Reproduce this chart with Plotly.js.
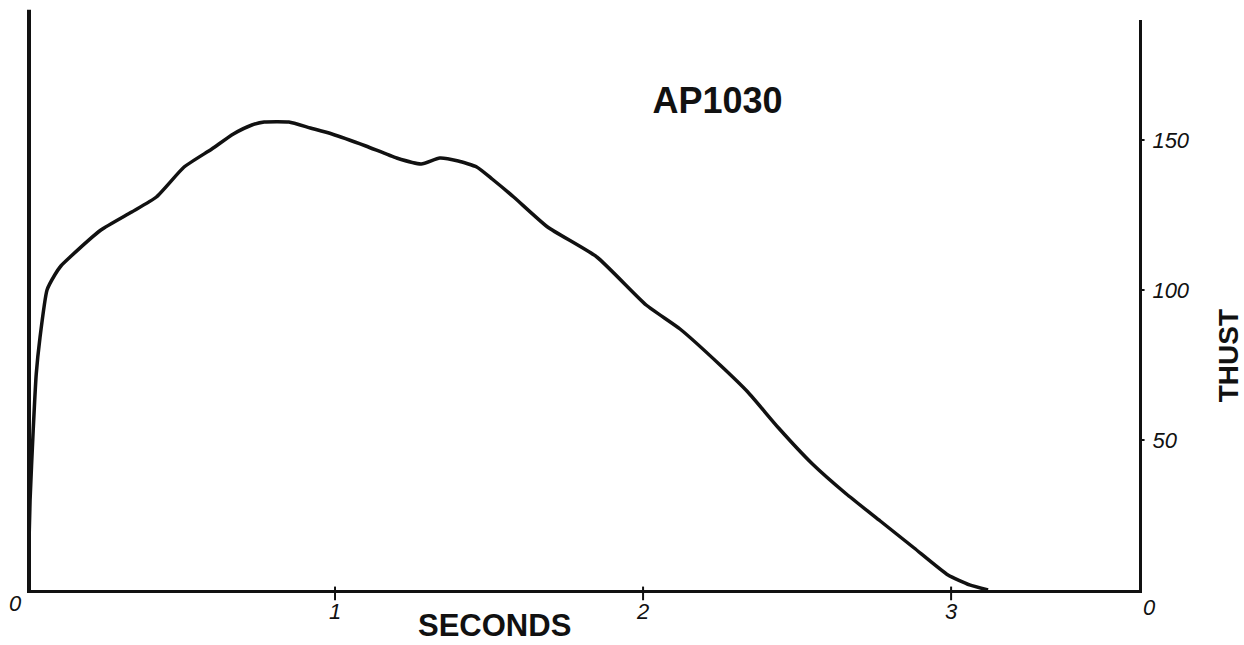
<!DOCTYPE html>
<html>
<head>
<meta charset="utf-8">
<script src="https://cdn.plot.ly/plotly-3.0.1.min.js"></script>
<style>html,body{margin:0;padding:0;background:#fff;}#chart{width:1244px;height:645px;}</style>
</head>
<body>
<div id="chart"></div>
<script>
// Time (seconds) and thrust
const seconds = [0, 0.005, 0.01, 0.02, 0.03, 0.042, 0.065, 0.09, 0.11, 0.14, 0.24, 0.34, 0.42, 0.51, 0.6, 0.67, 0.73, 0.77, 0.85, 0.92, 0.99, 1.1, 1.2, 1.28, 1.34, 1.4, 1.46, 1.51, 1.58, 1.69, 1.85, 2.01, 2.12, 2.25, 2.34, 2.44, 2.55, 2.66, 2.77, 2.88, 2.99, 3.06, 3.12];
const thrust  = [0, 10, 30, 53, 72, 84, 100, 105, 108, 111, 120, 126, 131, 141, 147, 152, 155, 156, 156, 154, 152, 148, 144, 142, 144, 143, 141, 137, 131, 121, 111, 95, 87, 75, 66, 54, 42, 32, 23, 14, 5, 1.7, 0];

const xTickVals = [1, 2, 3];
const xTickText = ['1', '2', '3'];
const yTickVals = [50, 100, 150];
const yTickText = ['50', '100', '150'];
const chartTitle = 'AP1030';
const xTitle = 'SECONDS';
const yTitle = 'THUST';
const zeroLabel = '0';

const ink = '#111111';
const tickFont = {family: 'Liberation Sans, Arial, sans-serif', size: 22, color: ink, style: 'italic'};
const boldFont = {family: 'Liberation Sans, Arial, sans-serif', color: ink, weight: 'bold'};

const trace = {
  x: seconds, y: thrust, type: 'scatter', mode: 'lines',
  line: {color: ink, width: 3.5, shape: 'spline', smoothing: 0.5},
  hoverinfo: 'x+y', showlegend: false, cliponaxis: false
};

// tick marks drawn as short segments at the tick values (positions via the axes' scales)
const tickShapes = [];
xTickVals.forEach(v => tickShapes.push({type: 'line', xref: 'x', yref: 'paper', x0: v, x1: v,
  y0: -0.018, y1: 0.006, line: {color: ink, width: 2}}));
yTickVals.forEach(v => tickShapes.push({type: 'line', xref: 'paper', yref: 'y', x0: 1, x1: 1.005,
  y0: v, y1: v, line: {color: ink, width: 2}}));

const layout = {
  width: 1244, height: 645,
  margin: {l: 27, r: 105, t: 20, b: 55},
  paper_bgcolor: '#ffffff', plot_bgcolor: '#ffffff',
  title: {
    text: chartTitle, xref: 'paper', x: 0.621, xanchor: 'center',
    yref: 'container', y: 0.845, yanchor: 'middle',
    font: Object.assign({size: 36}, boldFont)
  },
  xaxis: {
    range: [0, 3.61], showgrid: false, zeroline: false,
    showline: true, linecolor: ink, linewidth: 3,
    tickmode: 'array', tickvals: xTickVals, ticktext: xTickText,
    ticks: '', ticklabelstandoff: 0,
    tickfont: tickFont, fixedrange: true
  },
  yaxis: {
    range: [0, 190], side: 'right', showgrid: false, zeroline: false,
    showline: true, linecolor: ink, linewidth: 3,
    tickmode: 'array', tickvals: yTickVals, ticktext: yTickText,
    ticks: '', ticklabelstandoff: 6,
    tickfont: tickFont, fixedrange: true
  },
  shapes: [
    {type: 'line', xref: 'x', yref: 'paper', x0: 0, x1: 0, y0: 0, y1: 1.018,
     line: {color: ink, width: 8}}
  ].concat(tickShapes),
  annotations: [
    {text: zeroLabel, xref: 'x', yref: 'y', x: 0, y: 0, xshift: -12, yshift: -13,
     showarrow: false, font: tickFont},
    {text: zeroLabel, xref: 'x', yref: 'y', x: 3.61, y: 0, xshift: 10, yshift: -17,
     showarrow: false, font: tickFont},
    {text: xTitle, xref: 'paper', yref: 'paper', x: 0.42, y: 0, yshift: -35,
     xanchor: 'center', yanchor: 'middle', showarrow: false,
     font: Object.assign({size: 31}, boldFont)},
    {text: yTitle, xref: 'paper', yref: 'paper', x: 1, xshift: 89, y: 0.41,
     xanchor: 'center', yanchor: 'middle', textangle: -90, showarrow: false,
     font: Object.assign({size: 28}, boldFont)}
  ]
};

Plotly.newPlot('chart', [trace], layout, {displayModeBar: false});
</script>
</body>
</html>
